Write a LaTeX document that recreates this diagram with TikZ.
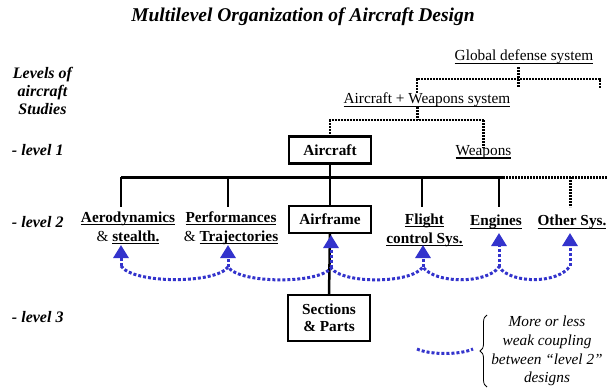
\documentclass[tikz,border=0pt]{standalone}
\usepackage{fontspec}
\setmainfont{Liberation Serif}
\usetikzlibrary{arrows.meta,decorations.pathreplacing}
\definecolor{cblue}{RGB}{51,51,204}
\newcommand\ulx[1]{\setbox0\hbox{#1}\leavevmode\rlap{\copy0}\rule[-3.2pt]{\wd0}{1.2pt}}
\begin{document}
\begin{tikzpicture}[x=1pt,y=-1pt,
  every node/.style={inner sep=0pt,outer sep=0pt},
  body/.style={font=\fontsize{15.3}{19}\selectfont, align=center},
  lvl/.style={font=\fontsize{16}{18}\selectfont\bfseries\itshape, align=center},
  box/.style={draw,line width=2.5pt,minimum width=82pt,minimum height=27pt,font=\fontsize{15.3}{17}\selectfont\bfseries, align=center},
  tree/.style={line width=2.5pt},
  bar/.style={line width=3pt},
  dots/.style={line width=2pt,dash pattern=on 2pt off 1pt},
  dtick/.style={line width=3pt,dash pattern=on 2pt off 1pt},
  coup/.style={cblue,line width=3pt,dash pattern=on 3pt off 2pt},
  tip/.style={-{Triangle[width=15pt,length=13pt]}}
]
\useasboundingbox (0,0) rectangle (608,388);

% title and level labels
\node[font=\fontsize{19.5}{22}\selectfont\bfseries\itshape] (ttl) at (303,17) {Multilevel Organization of Aircraft Design};
\node[lvl] (lvh) at (42.5,91) {Levels of\\aircraft\\Studies};
\node[lvl,anchor=west] (l1) at (12,150) {- level 1};
\node[lvl,anchor=west] (l2) at (12,222) {- level 2};
\node[lvl,anchor=west] (l3) at (12,317) {- level 3};

% upper system levels
\node[body] (gds) at (524,57) {\ulx{Global defense system}};
\node[body] (aws) at (427,100) {\ulx{Aircraft + Weapons system}};
\node[body] (wpn) at (483.5,152) {\ulx{Weapons}};

% boxes
\node[box] (acf) at (330,150) {Aircraft};
\node[box] (afr) at (330,219.5) {Airframe};
\node[box,minimum height=46pt] (sec) at (329,318) {Sections\\\& Parts};

% level 2 texts
\node[body] (aero) at (128,228) {\textbf{\ulx{Aerodynamics}}\\\& \textbf{\ulx{stealth.}}};
\node[body] (perf) at (231,228) {\textbf{\ulx{Performances}}\\\& \textbf{\ulx{Trajectories}}};
\node[body] (flt) at (424.5,230) {\textbf{\ulx{Flight}}\\\textbf{\ulx{control Sys.}}};
\node[body] (eng) at (496,222) {\textbf{\ulx{Engines}}};
\node[body] (oth) at (572,222) {\textbf{\ulx{Other Sys.}}};

% dotted upper tree
\coordinate (g0) at (518,67);
\coordinate (g1) at (518,88);
\coordinate (gl) at (417,79);
\coordinate (gr) at (600,79);
\draw[dtick] (g0) -- (g1);
\draw[dots] (aws.north -| gl) -- (gl) -- (gr) -- ++(0,9);
\coordinate (a1) at (417,120);
\draw[dtick] (aws.south -| a1) -- (a1);
\draw[dots] (acf.north) -- (acf.north |- a1) -- (wpn.north |- a1);
\draw[dtick] (wpn.north |- a1) -- ([yshift=-2pt]wpn.north);

% main bar
\coordinate (b1) at (121,177);
\coordinate (b2) at (228,177);
\coordinate (b3) at (330,177);
\coordinate (b4) at (422,177);
\coordinate (b5) at (499,177);
\coordinate (b6) at (570,177);
\coordinate (be) at (503,177);
\coordinate (bx) at (608,177);
\draw[bar] (b1) -- (be);
\draw[dtick] (be) -- (bx);
\draw[dtick] (b6) -- ++(0,30);
\foreach \b in {b1,b2,b4,b5} \draw[tree] (\b) -- ++(0,30);
\draw[tree] (acf.south) -- (afr.north);
\draw[tree] (afr.south) -- (sec.north);

% coupling arcs
\coordinate (k1) at (121,266);
\coordinate (k2) at (228,267);
\coordinate (k3) at (331,268);
\coordinate (k4) at (423,267);
\coordinate (k5) at (499,267);
\coordinate (k6) at (570,266);
\draw[coup] (k1) .. controls (133,284) and (216,284) .. (k2)
  .. controls (240,284) and (319,284) .. (k3)
  .. controls (343,284) and (411,284) .. (k4)
  .. controls (435,284) and (487,284) .. (k5)
  .. controls (511,284) and (558,284) .. (k6);
\draw[coup,tip] (k1) -- (121,245);
\draw[coup,tip] (k2) -- (228,245);
\draw[coup,tip] (k3) -- (331,235);
\draw[coup,tip] (k4) -- (423,245);
\draw[coup,tip] (k5) -- (499,233);
\draw[coup,tip] (k6) -- (570,233);

% legend
\coordinate (la) at (417,349);
\coordinate (lb) at (473,349);
\draw[coup] (la) .. controls (430,355) and (460,355) .. (lb);
\draw[decorate,decoration={brace,amplitude=7pt},line width=0.8pt] (487,387) -- (487,315);
\node[body,font=\fontsize{15.3}{18.7}\selectfont\itshape] (leg) at (547,351) {More or less\\weak coupling\\between “level 2”\\designs};
\end{tikzpicture}
\end{document}
